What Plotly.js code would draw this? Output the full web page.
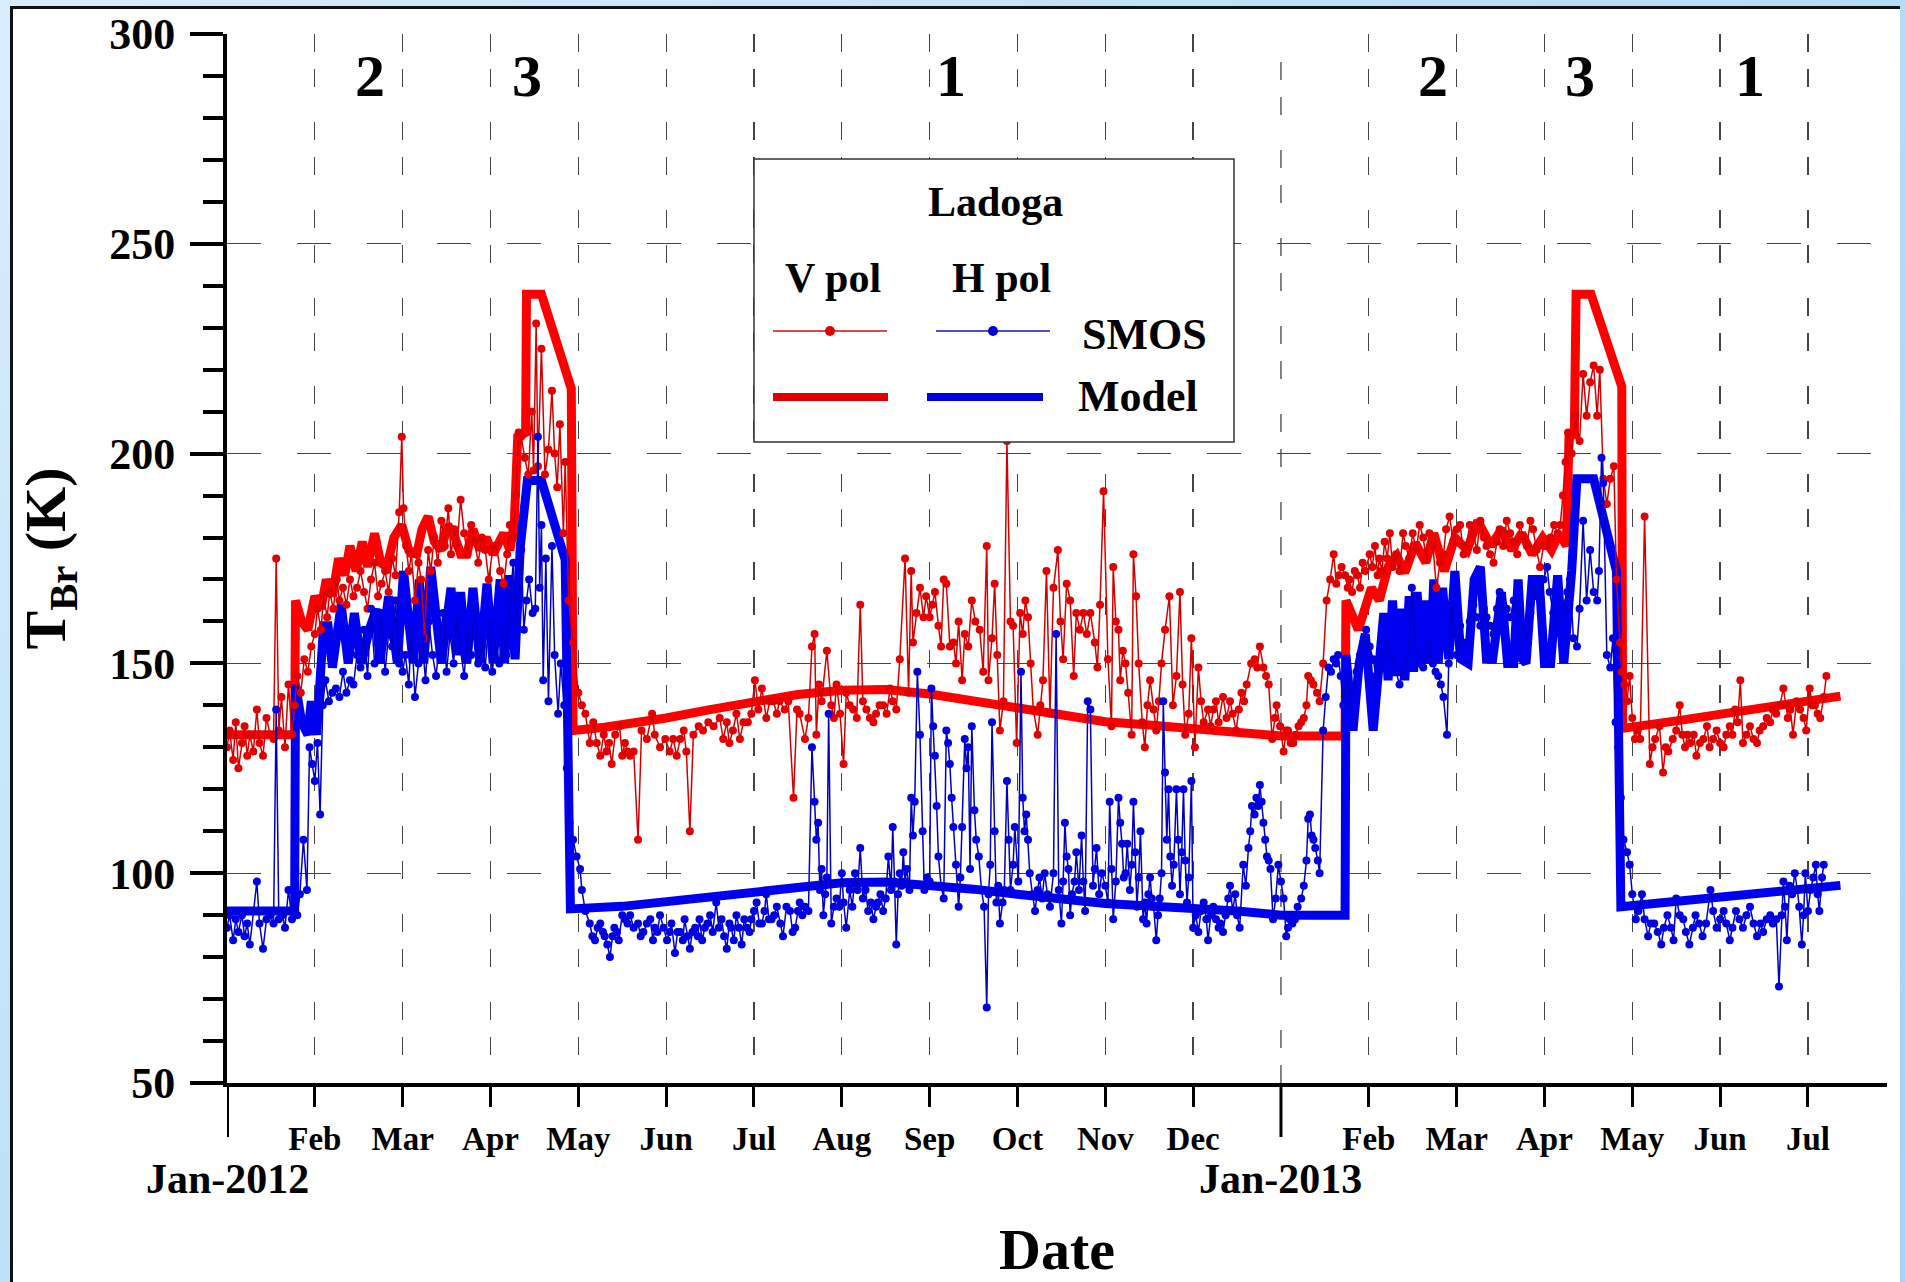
<!DOCTYPE html>
<html><head><meta charset="utf-8">
<script src="https://cdn.plot.ly/plotly-3.0.1.min.js"></script>
<style>
html,body{margin:0;padding:0;width:1905px;height:1282px;overflow:hidden;background:linear-gradient(135deg,#d8edfc 0%,#b6dcf7 55%,#a6d2f3 100%);}
#panel{position:absolute;left:10px;top:6px;width:1887px;height:1276px;background:#fff;border-top:3px solid #111;border-left:3px solid #111;}
#chart{position:absolute;left:0;top:0;width:1905px;height:1282px;}
</style></head><body><div id="panel"></div><div id="chart"></div>
<script>
// x values are month index: 0 = 1 Jan 2012, 12 = 1 Jan 2013
const monthPos = [1,2,3,4,5,6,7,8,9,10,11,13,14,15,16,17,18];
const monthLabels = ['Feb','Mar','Apr','May','Jun','Jul','Aug','Sep','Oct','Nov','Dec','Feb','Mar','Apr','May','Jun','Jul'];
const yearPos = [0,12];
const yearLabels = ['Jan-2012','Jan-2013'];
const zoneX = [1.63,3.42,8.24,13.73,15.40,17.34];
const zoneText = ['2','3','1','2','3','1'];
const zoneY = 290;

const smosV = [[0.00,130],[0.03,134],[0.07,127],[0.10,136],[0.13,125],[0.17,131],[0.20,135],[0.23,128],[0.26,133],[0.30,129],[0.34,139],[0.37,131],[0.41,128],[0.45,137],[0.49,133],[0.53,132],[0.56,175],[0.59,134],[0.62,142],[0.66,130],[0.70,145],[0.74,133],[0.77,140],[0.80,147],[0.84,143],[0.88,151],[0.92,148],[0.96,154],[1.00,157],
[1.03,163],[1.07,158],[1.10,166],[1.14,161],[1.17,167],[1.21,163],[1.25,170],[1.28,165],[1.32,168],[1.36,164],[1.40,170],[1.44,166],[1.48,168],[1.52,172],[1.56,167],[1.60,163],[1.64,170],[1.68,174],[1.72,166],[1.76,169],[1.80,172],[1.84,167],[1.88,175],[1.92,171],[1.96,186],[1.99,204],[2.01,187],
[2.04,178],[2.07,172],[2.10,176],[2.14,165],[2.18,174],[2.21,170],[2.25,156],[2.29,177],[2.32,172],[2.36,180],[2.40,174],[2.44,184],[2.48,178],[2.52,187],[2.55,176],[2.59,182],[2.62,178],[2.66,189],[2.70,181],[2.74,176],[2.78,183],[2.82,179],[2.86,174],[2.90,180],[2.94,177],[2.98,170],
[3.03,178],[3.07,178],[3.11,172],[3.15,169],[3.19,176],[3.22,183],[3.26,180],[3.29,190],[3.32,205],[3.35,204],[3.39,199],[3.43,195],[3.47,210],[3.49,196],[3.52,231],[3.54,197],[3.58,225],[3.62,195],[3.66,201],[3.70,215],[3.73,200],[3.76,192],[3.79,207],[3.83,181],[3.85,198],[3.89,165],[3.94,155],[4.00,143],[4.04,140],
[4.08,138],[4.13,131],[4.17,136],[4.21,131],[4.25,128],[4.29,133],[4.32,129],[4.35,131],[4.38,126],[4.42,133],[4.47,135],[4.50,128],[4.53,131],[4.56,129],[4.59,128],[4.63,129],[4.68,108],[4.72,134],[4.78,132],[4.84,138],[4.87,133],[4.93,130],[4.99,132],[5.04,129],[5.08,132],[5.12,128],[5.16,132],[5.20,134],[5.23,129],[5.27,110],[5.31,133],[5.37,135],[5.42,134],[5.48,136],[5.54,135],[5.61,137],[5.65,132],[5.69,136],[5.72,131],[5.76,134],[5.80,138],[5.84,132],[5.88,136],[5.93,136],[5.97,138],
[6.01,146],[6.05,139],[6.09,144],[6.14,137],[6.18,141],[6.22,141],[6.26,138],[6.29,141],[6.35,139],[6.39,141],[6.45,118],[6.49,139],[6.52,138],[6.58,132],[6.62,137],[6.66,154],[6.69,157],[6.71,133],[6.74,145],[6.77,141],[6.83,153],[6.88,140],[6.91,137],[6.94,145],[6.98,138],[7.02,126],[7.05,143],[7.09,140],[7.13,139],[7.17,137],[7.21,164],[7.24,141],[7.28,139],[7.32,137],[7.36,136],[7.39,138],[7.43,140],[7.47,140],[7.51,138],[7.55,144],[7.58,141],[7.62,139],[7.66,151],[7.72,175],[7.76,143],[7.79,172],[7.81,155],[7.85,162],[7.89,168],[7.93,161],[7.96,166],
[8.00,161],[8.03,164],[8.06,167],[8.10,159],[8.13,154],[8.16,170],[8.19,169],[8.23,154],[8.27,155],[8.30,150],[8.33,160],[8.37,146],[8.40,157],[8.44,154],[8.48,165],[8.52,160],[8.57,158],[8.61,148],[8.65,178],[8.67,146],[8.71,156],[8.74,169],[8.77,152],[8.80,134],[8.84,141],[8.88,203],[8.92,160],[8.95,159],[8.99,131],
[9.03,162],[9.06,157],[9.09,165],[9.12,161],[9.15,150],[9.18,139],[9.23,133],[9.26,140],[9.29,146],[9.33,172],[9.37,138],[9.41,168],[9.46,177],[9.49,160],[9.52,151],[9.56,169],[9.60,165],[9.64,147],[9.67,162],[9.71,158],[9.75,162],[9.79,157],[9.83,162],[9.88,155],[9.91,149],[9.94,164],[9.98,191],
[10.03,151],[10.07,135],[10.09,173],[10.12,160],[10.15,158],[10.17,146],[10.20,153],[10.23,150],[10.26,143],[10.30,133],[10.32,176],[10.35,166],[10.38,150],[10.42,136],[10.45,130],[10.48,140],[10.51,146],[10.55,139],[10.58,134],[10.61,141],[10.64,150],[10.68,158],[10.73,166],[10.77,140],[10.81,147],[10.85,167],[10.88,145],[10.91,133],[10.95,138],[10.98,156],
[11.02,130],[11.06,149],[11.09,141],[11.12,136],[11.17,139],[11.20,135],[11.23,139],[11.26,141],[11.29,136],[11.34,142],[11.38,137],[11.42,141],[11.45,138],[11.49,134],[11.52,139],[11.55,143],[11.58,141],[11.61,145],[11.66,150],[11.70,151],[11.73,149],[11.76,154],[11.80,149],[11.83,147],[11.86,145],[11.90,132],[11.93,137],[11.95,140],[11.99,135],
[12.03,129],[12.06,134],[12.08,134],[12.11,131],[12.14,131],[12.17,133],[12.20,135],[12.23,136],[12.26,137],[12.29,140],[12.31,147],[12.34,146],[12.37,145],[12.41,143],[12.44,141],[12.48,150],[12.52,165],[12.56,170],[12.60,176],[12.63,169],[12.66,171],[12.69,173],[12.73,171],[12.76,168],[12.78,170],[12.81,167],[12.84,172],[12.87,171],[12.90,168],[12.93,174],[12.96,172],
[13.01,176],[13.04,173],[13.07,178],[13.10,171],[13.12,175],[13.15,172],[13.18,179],[13.21,175],[13.24,181],[13.27,173],[13.31,176],[13.35,172],[13.39,181],[13.42,178],[13.46,175],[13.50,181],[13.54,177],[13.58,183],[13.62,180],[13.65,175],[13.69,181],[13.73,178],[13.77,168],[13.81,174],[13.85,176],[13.88,182],[13.92,185],[13.96,179],
[14.00,182],[14.04,183],[14.08,176],[14.11,178],[14.15,183],[14.19,181],[14.23,177],[14.27,184],[14.31,180],[14.34,178],[14.38,176],[14.42,174],[14.46,179],[14.49,182],[14.53,178],[14.57,184],[14.61,181],[14.65,179],[14.69,176],[14.72,183],[14.76,180],[14.80,178],[14.84,184],[14.87,182],[14.91,177],[14.95,173],[14.99,178],
[15.03,178],[15.07,180],[15.11,183],[15.15,181],[15.18,183],[15.21,190],[15.24,198],[15.27,205],[15.31,200],[15.35,209],[15.40,203],[15.44,219],[15.48,209],[15.52,217],[15.56,221],[15.60,209],[15.63,220],[15.67,194],[15.71,188],[15.75,194],[15.79,197],[15.82,170],[15.86,155],[15.88,148],[15.91,145],[15.94,141],[15.97,147],
[16.00,137],[16.03,132],[16.06,134],[16.09,132],[16.14,185],[16.20,126],[16.23,130],[16.26,132],[16.31,135],[16.35,124],[16.38,130],[16.41,129],[16.46,132],[16.50,134],[16.54,140],[16.57,133],[16.60,130],[16.63,133],[16.66,131],[16.70,133],[16.73,128],[16.77,131],[16.81,132],[16.85,135],[16.88,130],[16.92,132],[16.96,134],
[17.00,131],[17.04,130],[17.07,133],[17.11,135],[17.14,133],[17.17,139],[17.20,136],[17.23,146],[17.26,131],[17.30,133],[17.34,135],[17.38,132],[17.42,131],[17.45,134],[17.49,135],[17.53,137],[17.57,136],[17.60,139],[17.64,138],[17.68,140],[17.72,144],[17.75,140],[17.77,137],[17.80,139],[17.83,133],[17.87,141],[17.91,139],[17.95,137],[17.98,134],
[18.02,144],[18.05,140],[18.08,140],[18.11,138],[18.14,137],[18.18,142],[18.21,147]];

const smosH = [[0.00,87],[0.03,90],[0.07,84],[0.10,89],[0.13,86],[0.17,90],[0.20,85],[0.23,88],[0.26,83],[0.30,91],[0.34,98],[0.37,88],[0.41,82],[0.45,89],[0.49,90],[0.53,88],[0.56,139],[0.59,89],[0.63,90],[0.66,87],[0.70,96],[0.74,89],[0.77,92],[0.80,90],[0.83,95],[0.87,108],[0.91,96],[0.94,130],[0.97,126],[1.00,122],[1.03,131],[1.06,114],[1.09,140],
[1.12,146],[1.16,141],[1.20,143],[1.24,144],[1.28,142],[1.32,148],[1.36,143],[1.40,146],[1.44,145],[1.48,152],[1.52,149],[1.56,158],[1.60,147],[1.64,163],[1.68,150],[1.72,155],[1.76,162],[1.80,148],[1.84,157],[1.88,154],[1.92,165],[1.96,150],[2.00,148],
[2.03,152],[2.07,145],[2.10,158],[2.14,142],[2.18,150],[2.22,156],[2.26,146],[2.30,160],[2.34,152],[2.38,147],[2.42,155],[2.46,162],[2.50,148],[2.54,157],[2.58,150],[2.62,161],[2.66,153],[2.70,147],[2.74,158],[2.78,152],[2.82,163],[2.86,150],[2.90,156],[2.94,149],[2.98,160],
[3.02,148],[3.06,155],[3.10,150],[3.14,158],[3.18,152],[3.22,165],[3.26,174],[3.29,160],[3.32,167],[3.35,177],[3.38,158],[3.41,165],[3.44,170],[3.48,162],[3.51,163],[3.54,204],[3.56,168],[3.58,183],[3.60,146],[3.63,175],[3.66,141],[3.70,178],[3.73,152],[3.77,138],[3.80,150],[3.84,140],[3.87,125],[3.90,112],[3.94,108],[3.98,104],
[4.02,101],[4.04,96],[4.08,91],[4.13,88],[4.16,85],[4.19,84],[4.22,87],[4.25,88],[4.28,86],[4.30,85],[4.33,83],[4.36,80],[4.39,85],[4.41,87],[4.44,86],[4.46,84],[4.50,90],[4.53,89],[4.56,88],[4.59,90],[4.63,87],[4.68,88],[4.71,85],[4.74,86],[4.78,88],[4.82,89],[4.85,84],[4.87,87],[4.90,86],[4.93,90],[4.97,87],
[5.01,84],[5.04,86],[5.06,88],[5.10,81],[5.13,86],[5.16,86],[5.19,84],[5.21,89],[5.24,85],[5.27,82],[5.30,86],[5.33,87],[5.36,85],[5.38,89],[5.41,84],[5.44,87],[5.47,88],[5.50,90],[5.53,86],[5.57,93],[5.60,87],[5.63,89],[5.66,85],[5.69,82],[5.72,88],[5.74,87],[5.77,84],[5.80,90],[5.83,87],[5.86,83],[5.89,89],[5.92,87],[5.95,86],[5.97,89],
[6.00,91],[6.03,93],[6.06,88],[6.09,88],[6.12,91],[6.14,95],[6.17,89],[6.20,89],[6.23,90],[6.26,92],[6.30,88],[6.33,85],[6.37,92],[6.41,91],[6.44,86],[6.47,87],[6.50,91],[6.52,93],[6.55,90],[6.58,92],[6.62,91],[6.66,130],[6.69,117],[6.71,108],[6.73,112],[6.75,96],[6.77,101],[6.79,90],[6.81,95],[6.83,99],[6.85,138],[6.88,88],[6.91,92],[6.94,94],[6.97,92],
[7.00,100],[7.02,93],[7.05,87],[7.09,96],[7.12,92],[7.15,100],[7.18,96],[7.21,106],[7.24,94],[7.27,96],[7.30,91],[7.33,93],[7.36,89],[7.39,92],[7.41,93],[7.44,95],[7.47,91],[7.50,94],[7.53,104],[7.56,96],[7.58,111],[7.60,98],[7.62,83],[7.64,95],[7.66,100],[7.68,97],[7.70,105],[7.72,98],[7.74,101],[7.77,96],[7.79,118],[7.81,109],[7.83,117],[7.86,148],[7.89,133],[7.92,110],[7.94,96],[7.97,99],
[8.00,98],[8.02,144],[8.04,135],[8.06,128],[8.08,116],[8.10,104],[8.13,97],[8.16,94],[8.19,134],[8.21,131],[8.23,126],[8.25,118],[8.27,111],[8.30,102],[8.33,92],[8.35,99],[8.37,111],[8.40,132],[8.42,125],[8.44,130],[8.46,101],[8.48,135],[8.51,115],[8.53,108],[8.56,104],[8.59,96],[8.62,92],[8.65,68],[8.67,95],[8.69,102],[8.71,136],[8.74,110],[8.76,93],[8.78,97],[8.80,88],[8.83,93],[8.85,96],[8.88,122],[8.90,108],[8.92,96],[8.95,102],[8.97,111],
[9.01,98],[9.04,148],[9.06,118],[9.08,110],[9.10,114],[9.12,108],[9.14,100],[9.17,95],[9.20,91],[9.23,96],[9.25,99],[9.28,94],[9.31,100],[9.34,95],[9.37,92],[9.41,100],[9.44,157],[9.47,96],[9.50,88],[9.52,98],[9.54,112],[9.56,104],[9.58,101],[9.60,90],[9.62,95],[9.65,98],[9.67,105],[9.70,96],[9.73,109],[9.75,98],[9.77,91],[9.80,141],[9.83,139],[9.86,97],[9.88,101],[9.90,106],[9.93,95],[9.96,100],
[10.00,97],[10.03,93],[10.05,117],[10.07,101],[10.09,89],[10.12,98],[10.15,118],[10.17,112],[10.19,107],[10.21,99],[10.23,100],[10.25,107],[10.28,96],[10.30,102],[10.32,117],[10.34,105],[10.36,92],[10.38,99],[10.40,110],[10.43,89],[10.45,93],[10.47,88],[10.49,95],[10.51,99],[10.53,94],[10.55,92],[10.58,84],[10.60,90],[10.62,94],[10.64,100],[10.66,141],[10.68,124],[10.70,108],[10.72,120],[10.74,104],[10.76,97],[10.78,102],[10.81,120],[10.83,108],[10.85,95],[10.87,105],[10.89,120],[10.91,103],[10.93,93],[10.95,99],[10.98,122],
[11.00,87],[11.03,90],[11.06,86],[11.09,91],[11.12,93],[11.15,89],[11.17,84],[11.20,90],[11.23,92],[11.26,89],[11.29,87],[11.31,88],[11.34,86],[11.37,90],[11.40,94],[11.42,97],[11.45,91],[11.48,95],[11.50,90],[11.53,87],[11.57,102],[11.60,97],[11.63,106],[11.65,110],[11.67,116],[11.70,114],[11.72,118],[11.74,116],[11.76,121],[11.78,117],[11.80,112],[11.82,108],[11.84,104],[11.86,103],[11.88,101],[11.91,89],[11.94,94],[11.97,102],
[12.00,98],[12.03,94],[12.06,85],[12.08,87],[12.10,89],[12.13,88],[12.16,89],[12.19,92],[12.23,94],[12.26,97],[12.29,103],[12.31,113],[12.33,114],[12.35,109],[12.37,108],[12.39,106],[12.42,103],[12.44,100],[12.48,134],[12.51,142],[12.54,149],[12.57,148],[12.60,151],[12.63,150],[12.65,152],[12.68,147],[12.71,140],[12.74,146],[12.76,146],[12.79,140],[12.82,143],[12.86,148],[12.90,152],[12.94,155],[12.97,158],
[13.01,154],[13.05,151],[13.08,147],[13.12,149],[13.16,152],[13.20,155],[13.24,152],[13.28,151],[13.31,148],[13.35,145],[13.39,150],[13.43,150],[13.46,156],[13.49,168],[13.51,160],[13.54,153],[13.58,150],[13.62,149],[13.66,152],[13.69,155],[13.73,150],[13.76,148],[13.79,147],[13.82,145],[13.85,142],[13.89,133],[13.91,150],[13.94,164],[13.97,158],
[14.00,152],[14.04,159],[14.08,155],[14.11,154],[14.15,160],[14.19,164],[14.23,161],[14.27,159],[14.31,163],[14.34,161],[14.38,159],[14.42,157],[14.46,163],[14.49,167],[14.53,164],[14.57,163],[14.61,161],[14.65,165],[14.69,163],[14.72,161],[14.76,158],[14.80,156],[14.84,162],[14.87,168],[14.91,166],[14.95,165],[14.99,170],
[15.03,173],[15.06,167],[15.10,162],[15.14,159],[15.18,161],[15.22,164],[15.26,167],[15.29,170],[15.33,156],[15.37,154],[15.40,163],[15.44,184],[15.48,165],[15.52,177],[15.56,167],[15.60,165],[15.62,172],[15.65,199],[15.67,193],[15.71,152],[15.75,149],[15.78,156],[15.81,136],[15.84,130],[15.87,118],[15.90,108],[15.94,105],[15.97,102],
[16.00,95],[16.04,89],[16.07,91],[16.11,95],[16.14,89],[16.18,85],[16.21,88],[16.25,88],[16.29,86],[16.33,83],[16.36,87],[16.40,90],[16.44,87],[16.47,84],[16.50,94],[16.54,90],[16.58,89],[16.61,86],[16.65,83],[16.69,87],[16.72,90],[16.76,88],[16.80,85],[16.84,88],[16.89,96],[16.92,91],[16.96,87],
[17.00,89],[17.04,91],[17.07,88],[17.11,84],[17.14,87],[17.18,91],[17.22,89],[17.26,87],[17.30,90],[17.34,92],[17.38,88],[17.42,85],[17.46,88],[17.49,86],[17.53,89],[17.57,90],[17.60,88],[17.64,89],[17.67,73],[17.70,90],[17.72,98],[17.74,92],[17.76,84],[17.79,97],[17.82,95],[17.85,100],[17.88,96],[17.90,92],[17.93,83],[17.95,90],[17.97,100],
[18.00,91],[18.03,96],[18.06,99],[18.09,102],[18.11,95],[18.13,91],[18.16,99],[18.18,102]];

const modelV = [[0,133],[0.77,133],[0.78,165],[0.85,160],[0.92,158],[1.00,166],[1.07,163],[1.13,170],[1.20,166],[1.27,175],[1.34,171],[1.40,178],[1.47,172],[1.54,179],[1.60,173],[1.68,181],[1.75,174],[1.82,173],[1.90,180],[1.99,183],[2.07,177],[2.16,176],[2.22,182],[2.29,185],[2.36,179],[2.44,177],[2.51,183],[2.58,181],[2.66,176],[2.73,176],[2.80,182],[2.88,177],[2.95,180],[3.03,176],[3.10,179],[3.15,181],[3.22,177],[3.27,183],[3.31,204],[3.40,205],[3.41,238],[3.58,238],[3.92,215.5],[3.94,134],
[4.3,134.8],[4.6,135.6],[5.0,137],[5.5,139],[6.0,140.9],[6.5,142.6],[7.0,143.6],[7.5,143.8],[8.0,142.7],[8.5,141],[9.0,139.2],[9.5,137.6],[10.0,136.1],[10.5,135.3],[11.0,134.5],[11.5,133.6],[12.0,132.7],[12.73,132.7],
[12.74,165],[12.88,158],[13.03,168],[13.12,165],[13.22,173],[13.32,175.6],[13.41,171.6],[13.53,178.7],[13.65,174],[13.74,181],[13.86,172],[13.98,180],[14.12,177],[14.24,184],[14.39,178],[14.51,182],[14.63,177],[14.74,181],[14.86,176],[14.98,180],[15.08,177],[15.17,181],[15.25,178],[15.28,204.5],[15.34,204.5],[15.36,238],[15.53,238],[15.88,216],[15.89,134.5],
[16.5,136.3],[17.0,137.8],[17.5,139.2],[18.0,140.6],[18.37,142.2]];

const modelH = [[0,91],[0.77,91],[0.78,145],[0.85,136],[0.92,133],[0.96,141],[1.02,133],[1.10,159],[1.15,159],[1.20,149],[1.30,164],[1.38,150],[1.45,162],[1.53,150],[1.62,158],[1.70,163],[1.74,150],[1.84,166],[1.94,150],[2.01,172],[2.12,150],[2.19,170],[2.24,150],[2.32,173],[2.44,150],[2.55,168],[2.62,152],[2.66,167],[2.73,150],[2.80,168],[2.88,150],[2.96,169],[3.03,150],[3.11,170],[3.16,150],[3.21,171],[3.28,151],[3.34,178],[3.42,193.6],[3.58,193.6],[3.85,174.7],[3.91,91.5],
[4.5,92.1],[5.0,93.2],[5.5,94.5],[6.0,95.7],[6.5,96.9],[7.0,97.7],[7.5,97.9],[8.0,97.3],[8.5,96.2],[9.0,95],[9.5,93.8],[10.0,92.8],[10.5,92.2],[11.0,91.8],[11.5,91],[12.0,90],[12.73,90],
[12.74,152],[12.82,134],[12.89,150],[12.96,157],[13.05,134],[13.12,150],[13.17,162],[13.22,146],[13.27,165],[13.32,147],[13.36,163],[13.41,146],[13.46,166],[13.51,148],[13.55,167],[13.60,150],[13.65,165],[13.70,150],[13.74,170],[13.79,150],[13.84,168],[13.91,151],[13.98,172],[14.05,151],[14.13,150],[14.20,170],[14.27,173],[14.34,151],[14.41,151],[14.51,167],[14.58,150],[14.65,150],[14.70,170],[14.75,151],[14.79,150],[14.86,170],[14.94,170],[15.00,150],[15.07,150],[15.15,171],[15.22,150],[15.31,172],[15.37,194],[15.56,194],[15.82,172],[15.87,92],
[16.5,93.2],[17.0,94.2],[17.5,95.3],[18.0,96.4],[18.37,97.1]];

const FONT = '"Liberation Serif", "Times New Roman", Times, serif';
const xs = a => a.map(p => p[0]);
const ys = a => a.map(p => p[1]);

const traces = [
  {x: xs(modelV), y: ys(modelV), mode: 'lines', name: 'Model V pol', line: {color: '#ff0000', width: 9}},
  {x: xs(modelH), y: ys(modelH), mode: 'lines', name: 'Model H pol', line: {color: '#0000f0', width: 9}},
  {x: xs(smosV), y: ys(smosV), mode: 'lines+markers', name: 'SMOS V pol', line: {color: '#d40000', width: 1.5}, marker: {color: '#e30000', size: 8}},
  {x: xs(smosH), y: ys(smosH), mode: 'lines+markers', name: 'SMOS H pol', line: {color: '#0000c0', width: 1.5}, marker: {color: '#0000e0', size: 8}}
];

// paper-coordinate helpers from pixel positions of the plot area (227..1887, 34..1083)
const px = v => (v - 227) / 1660;
const py = v => (1083 - v) / 1049;

const annotations = [];
yearPos.forEach((p, i) => annotations.push({x: p, y: py(1179), xref: 'x', yref: 'paper', text: yearLabels[i], showarrow: false, xanchor: 'center', yanchor: 'middle', font: {family: FONT, size: 42, weight: 'bold', color: '#000'}}));
zoneX.forEach((p, i) => annotations.push({x: p, y: zoneY, xref: 'x', yref: 'y', text: zoneText[i], showarrow: false, xanchor: 'center', yanchor: 'middle', font: {family: FONT, size: 60, weight: 'bold', color: '#000'}}));
const legendFont = {family: FONT, size: 42, weight: 'bold', color: '#000'};
annotations.push({x: px(995), y: py(202), xref: 'paper', yref: 'paper', text: 'Ladoga', showarrow: false, xanchor: 'center', yanchor: 'middle', font: legendFont});
annotations.push({x: px(833), y: py(278), xref: 'paper', yref: 'paper', text: 'V pol', showarrow: false, xanchor: 'center', yanchor: 'middle', font: legendFont});
annotations.push({x: px(1001), y: py(278), xref: 'paper', yref: 'paper', text: 'H pol', showarrow: false, xanchor: 'center', yanchor: 'middle', font: legendFont});
annotations.push({x: px(1080), y: py(334), xref: 'paper', yref: 'paper', text: 'SMOS', showarrow: false, xanchor: 'left', yanchor: 'middle', font: {family: FONT, size: 44, weight: 'bold', color: '#000'}});
annotations.push({x: px(1076), y: py(396), xref: 'paper', yref: 'paper', text: 'Model', showarrow: false, xanchor: 'left', yanchor: 'middle', font: {family: FONT, size: 44, weight: 'bold', color: '#000'}});

const shapes = [
  {type: 'line', xref: 'x', yref: 'paper', x0: yearPos[0], x1: yearPos[0], y0: 0, y1: -54 / 1049, line: {color: '#000', width: 4}},
  {type: 'line', xref: 'x', yref: 'paper', x0: yearPos[1], x1: yearPos[1], y0: 0, y1: -54 / 1049, line: {color: '#000', width: 3}},
  {type: 'line', xref: 'x', yref: 'paper', x0: yearPos[1], x1: yearPos[1], y0: 0, y1: 1, layer: 'below', line: {color: '#444', width: 1.3, dash: '18px,17px,18px,35px'}},
  {type: 'rect', xref: 'paper', yref: 'paper', x0: px(754), x1: px(1234), y0: py(442), y1: py(159), fillcolor: '#fff', line: {color: '#333', width: 1.5}, layer: 'above'},
  {type: 'line', xref: 'paper', yref: 'paper', x0: px(773), x1: px(887), y0: py(331), y1: py(331), line: {color: '#c81010', width: 1.6}},
  {type: 'line', xref: 'paper', yref: 'paper', x0: px(936), x1: px(1050), y0: py(331), y1: py(331), line: {color: '#1515a8', width: 1.6}},
  {type: 'circle', xref: 'paper', yref: 'paper', xsizemode: 'pixel', ysizemode: 'pixel', xanchor: px(830), yanchor: py(331), x0: -5, x1: 5, y0: -5, y1: 5, fillcolor: '#e30000', line: {width: 0}},
  {type: 'circle', xref: 'paper', yref: 'paper', xsizemode: 'pixel', ysizemode: 'pixel', xanchor: px(993), yanchor: py(331), x0: -5, x1: 5, y0: -5, y1: 5, fillcolor: '#0000e0', line: {width: 0}},
  {type: 'line', xref: 'paper', yref: 'paper', x0: px(773), x1: px(888), y0: py(397), y1: py(397), line: {color: '#e00000', width: 8}},
  {type: 'line', xref: 'paper', yref: 'paper', x0: px(927), x1: px(1043), y0: py(397), y1: py(397), line: {color: '#0000d8', width: 8}}
];

const layout = {
  width: 1905, height: 1282,
  margin: {l: 227, r: 18, t: 34, b: 199, pad: 0},
  paper_bgcolor: 'rgba(0,0,0,0)', plot_bgcolor: 'rgba(0,0,0,0)',
  showlegend: false,
  font: {family: FONT, color: '#000'},
  xaxis: {
    range: [0, 18.9], tickmode: 'array', tickvals: monthPos, ticktext: monthLabels,
    ticks: 'outside', ticklen: 20, tickwidth: 3, tickcolor: '#000',
    showline: true, linewidth: 4, linecolor: '#000', zeroline: false,
    showgrid: true, gridcolor: '#444', gridwidth: 1.3, griddash: '18px,17px,18px,35px',
    tickfont: {family: FONT, size: 33, weight: 'bold', color: '#000'}, ticklabelstandoff: 3,
    title: {text: 'Date', font: {family: FONT, size: 58, weight: 'bold', color: '#000'}, standoff: 76}
  },
  yaxis: {
    range: [50, 300], tickmode: 'array', tickvals: [50, 100, 150, 200, 250, 300],
    ticks: 'outside', ticklen: 33, tickwidth: 4, tickcolor: '#000',
    showline: true, linewidth: 4, linecolor: '#000', zeroline: false,
    showgrid: true, gridcolor: '#444', gridwidth: 1.3, griddash: '34px,36px',
    tickfont: {family: FONT, size: 44, weight: 'bold', color: '#000'}, ticklabelstandoff: 6,
    minor: {dtick: 10, ticks: 'outside', ticklen: 20, tickwidth: 4, tickcolor: '#000', showgrid: false},
    title: {text: 'T<sub>Br</sub> (K)', font: {family: FONT, size: 58, weight: 'bold', color: '#000'}, standoff: 26}
  },
  annotations: annotations,
  shapes: shapes
};

Plotly.newPlot('chart', traces, layout, {displayModeBar: false, staticPlot: true});
</script></body></html>
